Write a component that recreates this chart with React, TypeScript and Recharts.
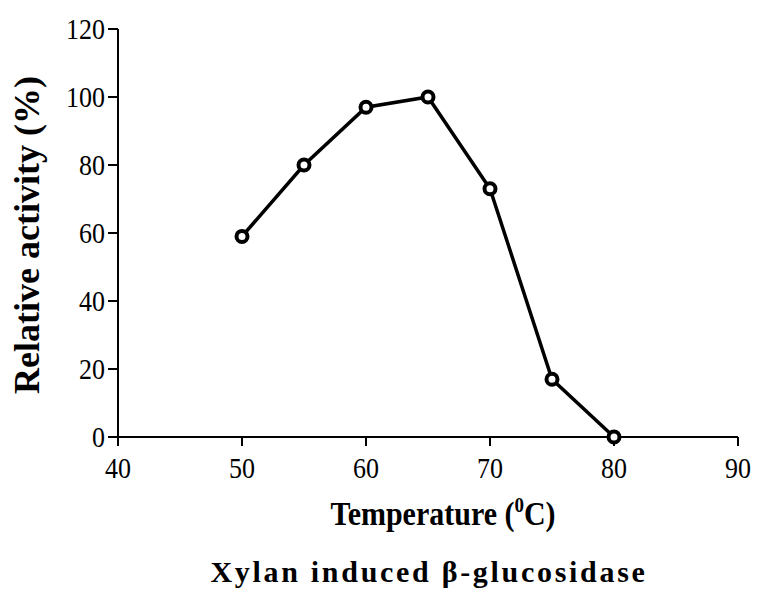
import React from "react";
import { LineChart, Line, XAxis, YAxis, Label } from "recharts";

const temperatures = [50, 55, 60, 65, 70, 75, 80];
const activity = [59, 80, 97, 100, 73, 17, 0];
const xTicks = [40, 50, 60, 70, 80, 90];
const yTicks = [0, 20, 40, 60, 80, 100, 120];

const data = temperatures.map((t, i) => ({ t, v: activity[i] }));

const font = "'Liberation Serif', 'Times New Roman', serif";
const STRETCH = 1.14; // the original figure's text is a bit taller than wide

const TickX = ({ x, y, payload }: any) => (
  <g transform={`translate(${x} ${y}) scale(1 ${STRETCH})`}>
    <text x={0} y={0} dy={26.5} textAnchor="middle" fill="#000" fontSize={26} fontFamily={font}>
      {payload.value}
    </text>
  </g>
);

const TickY = ({ x, y, payload }: any) => (
  <g transform={`translate(${x} ${y}) scale(1 ${STRETCH})`}>
    <text x={0} y={0} dy={8.8} textAnchor="end" fill="#000" fontSize={26} fontFamily={font}>
      {payload.value}
    </text>
  </g>
);

const XTitle = ({ viewBox }: any) => {
  const cx = viewBox.x + viewBox.width / 2 + 15;
  const by = viewBox.y + 88;
  return (
    <g transform={`translate(${cx} ${by}) scale(1 ${STRETCH})`}>
      <text x={0} y={0} textAnchor="middle" fill="#000" fontSize={30} fontWeight="bold" fontFamily={font}>
        Temperature (
        <tspan dy={-11} fontSize={19}>0</tspan>
        <tspan dy={11}>C)</tspan>
      </text>
    </g>
  );
};

const Caption = ({ viewBox }: any) => {
  const cx = viewBox.x + viewBox.width / 2 + 1;
  const by = viewBox.y + 145;
  return (
    <text
      x={cx}
      y={by}
      textAnchor="middle"
      fill="#000"
      fontSize={30}
      fontWeight="bold"
      fontFamily={font}
      style={{ letterSpacing: "2.7px" }}
    >
      Xylan induced β-glucosidase
    </text>
  );
};

const YTitle = ({ viewBox }: any) => {
  const cx = viewBox.x - 31;
  const cy = viewBox.y + viewBox.height / 2 + 2;
  return (
    <text
      transform={`translate(${cx} ${cy}) rotate(-90)`}
      x={0}
      y={0}
      textAnchor="middle"
      dominantBaseline="central"
      fill="#000"
      fontSize={36}
      fontWeight="bold"
      fontFamily={font}
    >
      Relative activity (%)
    </text>
  );
};

export default function App() {
  return (
    <div style={{ position: "absolute", left: 0, top: 0, width: 757, height: 594, background: "#fff" }}>
      <LineChart
        width={757}
        height={594}
        data={data}
        margin={{ top: 29, right: 19, bottom: 127, left: 58 }}
      >
        <XAxis
          dataKey="t"
          type="number"
          domain={[40, 90]}
          ticks={xTicks}
          height={30}
          tickSize={9}
          tickMargin={2}
          stroke="#000"
          strokeWidth={2}
          tick={<TickX />}
        >
          <Label content={<XTitle />} />
          <Label content={<Caption />} />
        </XAxis>
        <YAxis
          type="number"
          domain={[0, 120]}
          ticks={yTicks}
          width={60}
          tickSize={10}
          tickMargin={3}
          stroke="#000"
          strokeWidth={2}
          tick={<TickY />}
        >
          <Label content={<YTitle />} />
        </YAxis>
        <Line
          dataKey="v"
          stroke="#000"
          strokeWidth={3.5}
          dot={{ r: 5.5, stroke: "#000", strokeWidth: 4, fill: "#fff" }}
          isAnimationActive={false}
        />
      </LineChart>
    </div>
  );
}
